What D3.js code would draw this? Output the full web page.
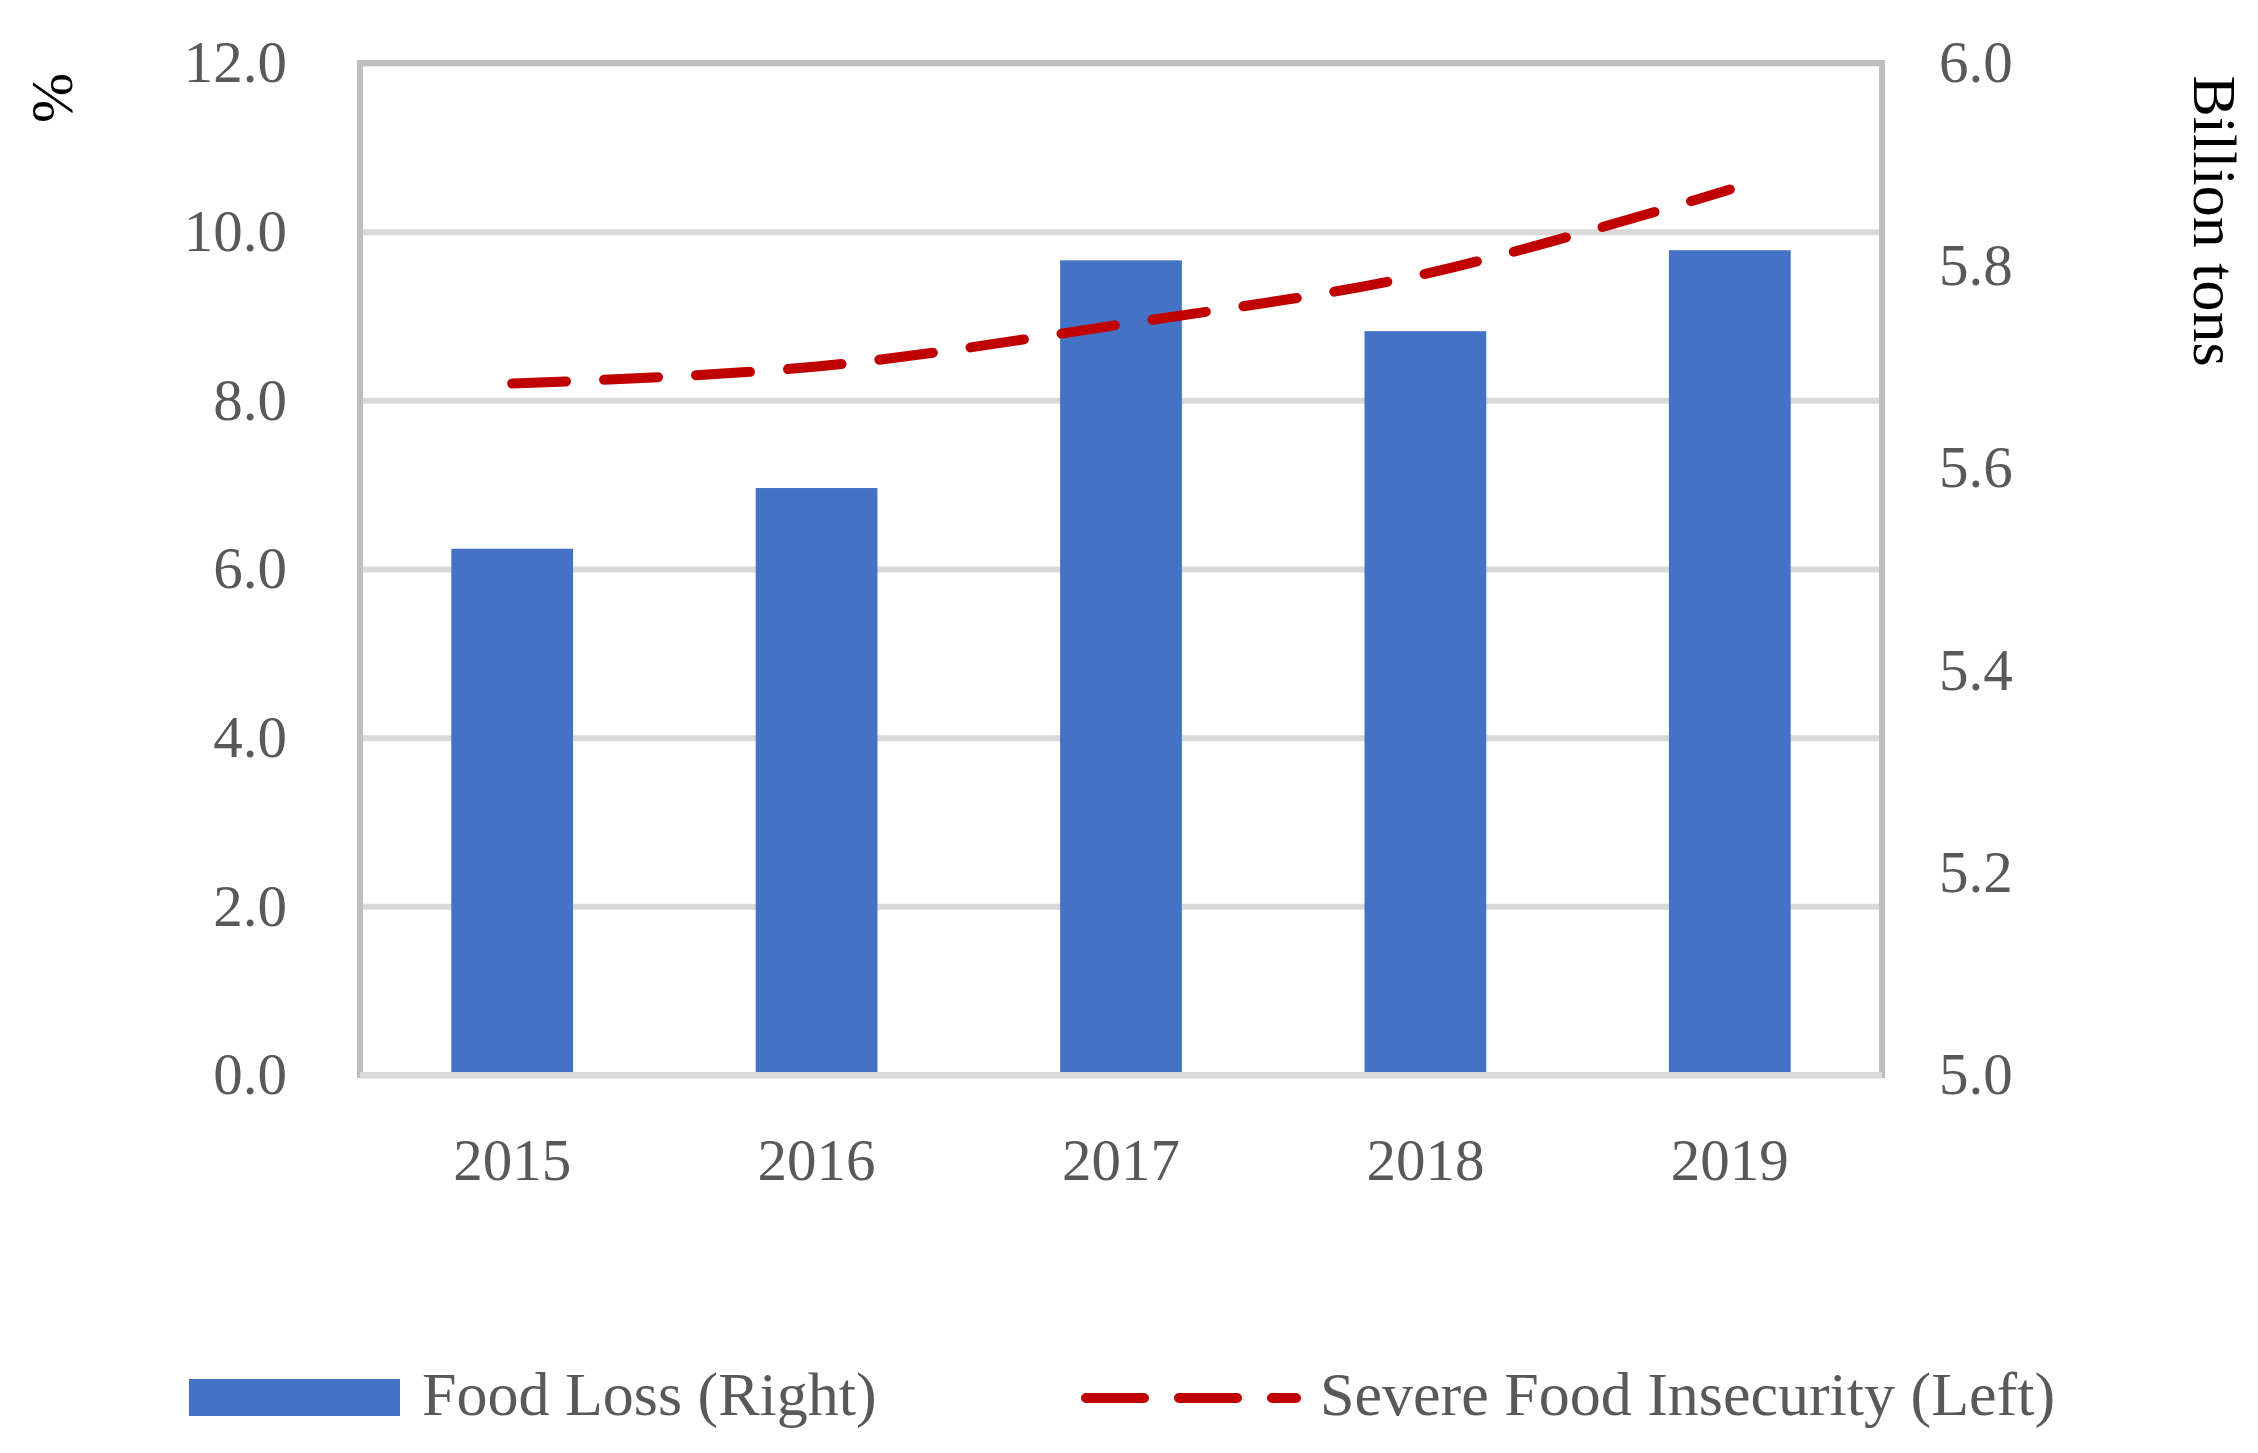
<html>
<head>
<script src="https://cdn.jsdelivr.net/npm/d3@7/dist/d3.min.js"></script>
<style>
body { margin: 0; background: #fff; }
text { font-family: "Liberation Serif", "DejaVu Serif", serif; }
</style>
</head>
<body>
<svg id="chart" width="2258" height="1453"></svg>
<script>
var years = ["2015", "2016", "2017", "2018", "2019"];
var foodLoss = [5.52, 5.58, 5.805, 5.735, 5.815];     // billion tons, right axis
var insecurity = [8.2, 8.4, 8.9, 9.5, 10.5];          // %, left axis
var leftTicks = [0, 2, 4, 6, 8, 10, 12];
var rightTicks = [5.0, 5.2, 5.4, 5.6, 5.8, 6.0];

var svg = d3.select("#chart");
var plotL = 360, plotR = 1882, plotT = 63, plotB = 1075;

var x = d3.scaleBand().domain(years).range([plotL, plotR]).paddingInner(0.6).paddingOuter(0.3);
var yL = d3.scaleLinear().domain([0, 12]).range([plotB, plotT]);
var yR = d3.scaleLinear().domain([5, 6]).range([plotB, plotT]);

// gridlines
var grid = svg.append("g")
    .attr("transform", "translate(" + plotL + ",0)")
    .call(d3.axisLeft(yL).tickValues(leftTicks).tickSize(-(plotR - plotL)).tickFormat(""));
grid.select(".domain").remove();
grid.selectAll("line").attr("stroke", "#d9d9d9").attr("stroke-width", 6);

// plot border
svg.append("rect")
    .attr("x", plotL).attr("y", plotT)
    .attr("width", plotR - plotL).attr("height", plotB - plotT)
    .attr("fill", "none").attr("stroke", "#bfbfbf").attr("stroke-width", 6);

// bars
svg.append("g").selectAll("rect")
    .data(years)
    .enter().append("rect")
    .attr("x", function(d) { return x(d); })
    .attr("width", x.bandwidth())
    .attr("y", function(d, i) { return yR(foodLoss[i]); })
    .attr("height", function(d, i) { return plotB - yR(foodLoss[i]); })
    .attr("fill", "#4472c4");

// bottom axis line
svg.append("line")
    .attr("x1", plotL).attr("x2", plotR)
    .attr("y1", plotB).attr("y2", plotB)
    .attr("stroke", "#d9d9d9").attr("stroke-width", 6);

// dashed smooth line
var line = d3.line()
    .x(function(d, i) { return x(years[i]) + x.bandwidth() / 2; })
    .y(function(d) { return yL(d); })
    .curve(d3.curveCatmullRom.alpha(0.5));

svg.append("path")
    .datum(insecurity)
    .attr("d", line)
    .attr("fill", "none")
    .attr("stroke", "#c00000")
    .attr("stroke-width", 10)
    .attr("stroke-linecap", "round")
    .attr("stroke-dasharray", "54,38");

// axes labels
var axL = svg.append("g")
    .attr("transform", "translate(" + plotL + ",0)")
    .call(d3.axisLeft(yL).tickValues(leftTicks).tickFormat(d3.format(".1f")).tickSize(0).tickPadding(73));
axL.select(".domain").remove();

var axR = svg.append("g")
    .attr("transform", "translate(" + plotR + ",0)")
    .call(d3.axisRight(yR).tickValues(rightTicks).tickFormat(d3.format(".1f")).tickSize(0).tickPadding(57));
axR.select(".domain").remove();

var axB = svg.append("g")
    .attr("transform", "translate(0," + plotB + ")")
    .call(d3.axisBottom(x).tickSize(0).tickPadding(63));
axB.select(".domain").remove();

svg.selectAll(".tick text")
    .attr("font-family", "Liberation Serif, DejaVu Serif, serif")
    .attr("font-size", 59)
    .attr("fill", "#595959");

// axis titles
svg.append("text")
    .attr("transform", "translate(72,98) rotate(-90)")
    .attr("text-anchor", "middle")
    .attr("font-size", 60)
    .attr("fill", "#000")
    .text("%");

svg.append("text")
    .attr("transform", "translate(2194,221) rotate(90)")
    .attr("text-anchor", "middle")
    .attr("font-size", 62)
    .attr("fill", "#000")
    .text("Billion tons");

// legend
var lg = svg.append("g");
lg.append("rect")
    .attr("x", 189).attr("y", 1379)
    .attr("width", 211).attr("height", 37)
    .attr("fill", "#4472c4");
lg.append("text")
    .attr("x", 422).attr("y", 1415)
    .attr("font-size", 62).attr("fill", "#595959")
    .text("Food Loss (Right)");
lg.append("line")
    .attr("x1", 1086).attr("x2", 1296)
    .attr("y1", 1398).attr("y2", 1398)
    .attr("stroke", "#c00000").attr("stroke-width", 10)
    .attr("stroke-linecap", "round")
    .attr("stroke-dasharray", "58,35");
lg.append("text")
    .attr("x", 1320).attr("y", 1415)
    .attr("font-size", 62).attr("fill", "#595959")
    .text("Severe Food Insecurity (Left)");
</script>
</body>
</html>
